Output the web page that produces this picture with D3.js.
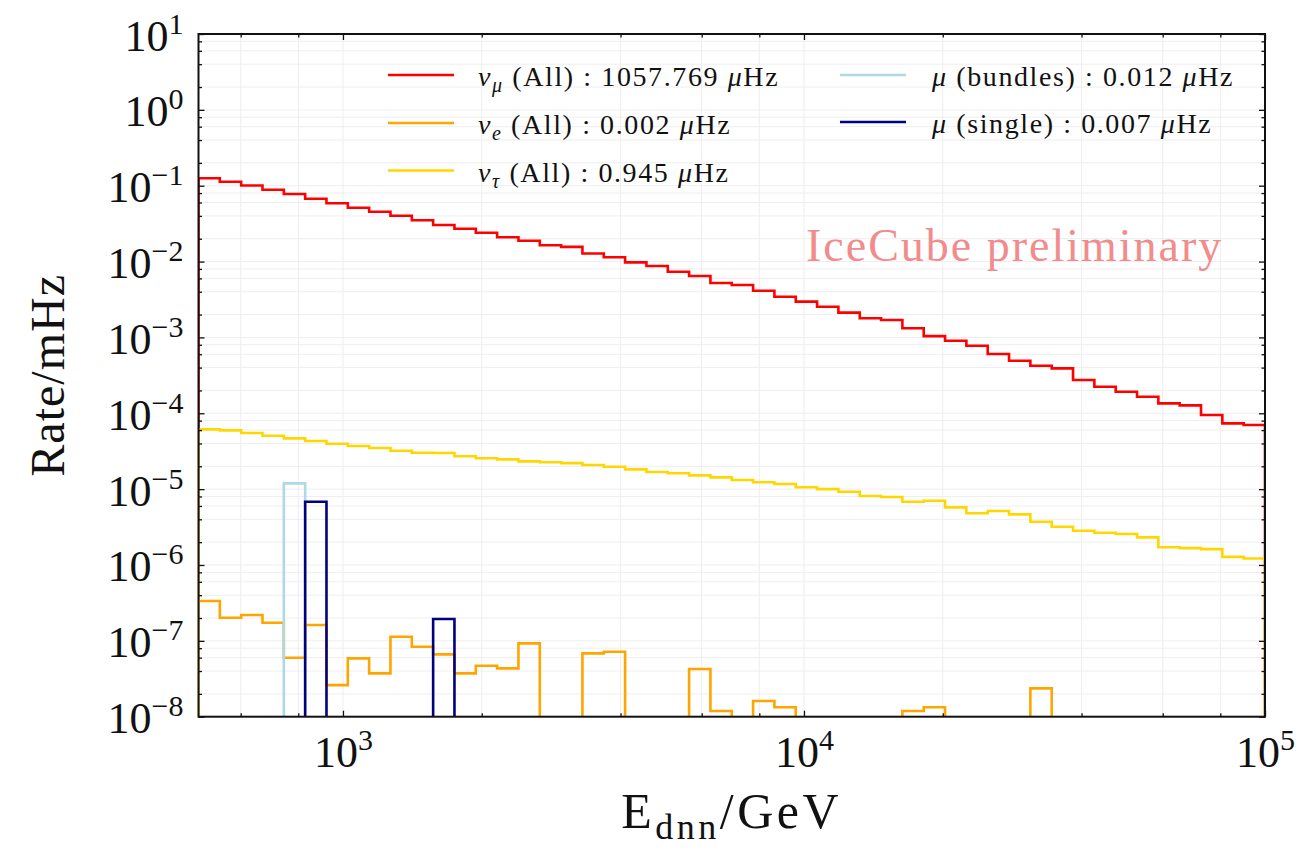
<!DOCTYPE html>
<html>
<head>
<meta charset="utf-8">
<script src="https://cdn.jsdelivr.net/npm/d3@7"></script>
<style>
  html, body { margin: 0; padding: 0; background: #ffffff; }
  svg { display: block; }
  text { font-family: "Liberation Serif", "Times New Roman", serif; fill: #111111; white-space: pre; }
</style>
</head>
<body>
<svg id="chart" width="1298" height="851"></svg>
<script>
// ---- Binning of the reconstructed energy (log-spaced) ----
const energyMin = 486;
const energyMax = 1e5;
const binCount = 50;

// ---- Rates per energy bin, in mHz ----
const numuRate = [
  0.1252, 0.1129, 0.1006, 0.0886, 0.0777, 0.0674, 0.0588, 0.0513, 0.0454, 0.0402,
  0.0350, 0.0303, 0.0271, 0.0240, 0.0209, 0.0188, 0.0164, 0.0156, 0.0128, 0.0114,
  0.00977, 0.00874, 0.00735, 0.00645, 0.00522, 0.00491, 0.00413, 0.00344, 0.00296, 0.00254,
  0.00212, 0.00179, 0.00170, 0.00132, 0.00104, 0.000904, 0.000777, 0.000604, 0.000493, 0.000423,
  0.000391, 0.000274, 0.000224, 0.000192, 0.000165, 0.000135, 0.000127, 0.0000948, 0.0000737, 0.0000700
];
const nueRate = [
  3.35e-7, 2.02e-7, 2.19e-7, 1.73e-7, 5.99e-8, 1.62e-7, 2.61e-8, 5.88e-8, 3.73e-8, 1.13e-7,
  8.36e-8, 6.64e-8, 3.73e-8, 4.69e-8, 4.34e-8, 9.27e-8, 0, 0, 6.84e-8, 7.18e-8,
  0, 0, 0, 4.25e-8, 1.19e-8, 0, 1.61e-8, 1.33e-8, 0, 0,
  0, 0, 0, 1.19e-8, 1.33e-8, 0, 0, 0, 0, 2.36e-8,
  0, 0, 0, 0, 0, 0, 0, 0, 0, 0
];
const nutauRate = [
  6.14e-5, 5.96e-5, 5.49e-5, 5.06e-5, 4.67e-5, 4.31e-5, 3.97e-5, 3.70e-5, 3.48e-5, 3.21e-5,
  3.02e-5, 3.00e-5, 2.71e-5, 2.55e-5, 2.47e-5, 2.32e-5, 2.26e-5, 2.20e-5, 2.08e-5, 1.97e-5,
  1.82e-5, 1.68e-5, 1.62e-5, 1.52e-5, 1.43e-5, 1.32e-5, 1.23e-5, 1.17e-5, 1.06e-5, 1.00e-5,
  9.24e-6, 8.11e-6, 7.87e-6, 6.82e-6, 7.03e-6, 5.75e-6, 4.80e-6, 5.14e-6, 4.65e-6, 3.72e-6,
  3.19e-6, 2.83e-6, 2.66e-6, 2.56e-6, 2.31e-6, 1.71e-6, 1.67e-6, 1.62e-6, 1.28e-6, 1.22e-6
];
const muBundleRate = [
  0, 0, 0, 0, 1.19e-5, 0, 0, 0, 0, 0,
  0, 0, 0, 0, 0, 0, 0, 0, 0, 0,
  0, 0, 0, 0, 0, 0, 0, 0, 0, 0,
  0, 0, 0, 0, 0, 0, 0, 0, 0, 0,
  0, 0, 0, 0, 0, 0, 0, 0, 0, 0
];
const muSingleRate = [
  0, 0, 0, 0, 0, 6.82e-6, 0, 0, 0, 0,
  0, 1.94e-7, 0, 0, 0, 0, 0, 0, 0, 0,
  0, 0, 0, 0, 0, 0, 0, 0, 0, 0,
  0, 0, 0, 0, 0, 0, 0, 0, 0, 0,
  0, 0, 0, 0, 0, 0, 0, 0, 0, 0
];

// ---- Legend content ----
const legendParticle = ["ν", "ν", "ν", "μ", "μ"];
const legendFlavour = ["μ", "e", "τ", "", ""];
const legendSample = ["All", "All", "All", "bundles", "single"];
const legendTotal = ["1057.769", "0.002", "0.945", "0.012", "0.007"];
const seriesColor = ["#ff0000", "#ffa500", "#ffd700", "#add8e6", "#000080"];

// ---- Axis ticks ----
const xMajorTicks = [1e3, 1e4, 1e5];
const xTickExponent = ["3", "4", "5"];
const yMajorTicks = [1e-8, 1e-7, 1e-6, 1e-5, 1e-4, 1e-3, 1e-2, 1e-1, 1e0, 1e1];
const yTickExponent = ["−8", "−7", "−6", "−5", "−4", "−3", "−2", "−1", "0", "1"];
const minorMultipliers = [2, 4, 6, 8];

const series = [numuRate, nueRate, nutauRate, muBundleRate, muSingleRate];

// ---- Layout ----
const svg = d3.select("#chart");
const plotL = 198.5, plotR = 1265, plotT = 34, plotB = 716.7;

const x = d3.scaleLog().domain([energyMin, energyMax]).range([plotL, plotR]);
const y = d3.scaleLog().domain([1e-8, 10]).range([plotB, plotT]);

const edges = d3.range(binCount + 1).map(i => energyMin * Math.pow(energyMax / energyMin, i / binCount));

function minorsIn(domain, decades) {
  const out = [];
  decades.forEach(d => minorMultipliers.forEach(m => {
    const v = d * m;
    if (v > domain[0] && v < domain[1]) out.push(v);
  }));
  return out;
}
const xMinor = minorsIn(x.domain(), [1e2, 1e3, 1e4]);
const yMinor = minorsIn(y.domain(), yMajorTicks);

// ---- Grid ----
const grid = svg.append("g").attr("stroke", "#eeeeee").attr("stroke-width", 1);
grid.selectAll("line.gx").data(xMajorTicks.concat(xMinor)).join("line")
  .attr("x1", d => x(d)).attr("x2", d => x(d)).attr("y1", plotT).attr("y2", plotB);
grid.selectAll("line.gy").data(yMajorTicks.concat(yMinor)).join("line")
  .attr("y1", d => y(d)).attr("y2", d => y(d)).attr("x1", plotL).attr("x2", plotR);

// ---- Step histograms ----
svg.append("clipPath").attr("id", "plotClip")
  .append("rect").attr("x", plotL).attr("y", plotT).attr("width", plotR - plotL).attr("height", plotB - plotT);

const floorValue = 1e-10;
const stepLine = d3.line()
  .x(d => x(d[0]))
  .y(d => y(d[1] > 0 ? d[1] : floorValue))
  .curve(d3.curveStepAfter);

const plot = svg.append("g").attr("clip-path", "url(#plotClip)");
series.forEach((rates, k) => {
  const pts = [[edges[0], 0]];
  edges.forEach((e, i) => pts.push([e, i < binCount ? rates[i] : rates[binCount - 1]]));
  pts.push([edges[binCount], 0]);
  plot.append("path")
    .attr("d", stepLine(pts))
    .attr("fill", "none")
    .attr("stroke", seriesColor[k])
    .attr("stroke-width", 2.6)
    .attr("stroke-linejoin", "miter");
});

// ---- Axes (ticks point inward on all four sides) ----
function styleAxis(g) {
  g.select(".domain").remove();
  g.selectAll(".tick line").attr("stroke", "#111").attr("stroke-width", 1.3);
}
const tickFont = 44, expFont = 30, expRise = 17;

const axL = svg.append("g").attr("transform", `translate(${plotL},0)`)
  .call(d3.axisLeft(y).tickValues(yMajorTicks).tickSize(-6).tickPadding(15).tickFormat(() => ""));
styleAxis(axL);
axL.selectAll(".tick text").each(function (d, i) {
  const t = d3.select(this).attr("dy", null).attr("y", 16).attr("text-anchor", "end")
    .attr("fill", "#111").style("font-size", tickFont + "px");
  t.append("tspan").text("10");
  t.append("tspan").attr("dy", -expRise).style("font-size", expFont + "px").text(yTickExponent[i]);
});
svg.append("g").attr("transform", `translate(${plotL},0)`)
  .call(d3.axisLeft(y).tickValues(yMinor).tickSize(-3.5).tickFormat(() => "")).call(styleAxis);
svg.append("g").attr("transform", `translate(${plotR},0)`)
  .call(d3.axisRight(y).tickValues(yMajorTicks).tickSize(-6).tickFormat(() => "")).call(styleAxis);
svg.append("g").attr("transform", `translate(${plotR},0)`)
  .call(d3.axisRight(y).tickValues(yMinor).tickSize(-3.5).tickFormat(() => "")).call(styleAxis);

const axB = svg.append("g").attr("transform", `translate(0,${plotB})`)
  .call(d3.axisBottom(x).tickValues(xMajorTicks).tickSize(-6).tickFormat(() => ""));
styleAxis(axB);
axB.selectAll(".tick text").each(function (d, i) {
  const t = d3.select(this).attr("dy", null).attr("y", 50.5).attr("text-anchor", "middle")
    .attr("fill", "#111").style("font-size", tickFont + "px");
  t.append("tspan").text("10");
  t.append("tspan").attr("dy", -expRise).style("font-size", expFont + "px").text(xTickExponent[i]);
});
svg.append("g").attr("transform", `translate(0,${plotB})`)
  .call(d3.axisBottom(x).tickValues(xMinor).tickSize(-3.5).tickFormat(() => "")).call(styleAxis);
svg.append("g").attr("transform", `translate(0,${plotT})`)
  .call(d3.axisTop(x).tickValues(xMajorTicks).tickSize(-6).tickFormat(() => "")).call(styleAxis);
svg.append("g").attr("transform", `translate(0,${plotT})`)
  .call(d3.axisTop(x).tickValues(xMinor).tickSize(-3.5).tickFormat(() => "")).call(styleAxis);

// Frame
svg.append("rect").attr("x", plotL).attr("y", plotT).attr("width", plotR - plotL).attr("height", plotB - plotT)
  .attr("fill", "none").attr("stroke", "#111").attr("stroke-width", 2);

// ---- Axis titles ----
const xTitle = svg.append("text").attr("x", (plotL + plotR) / 2).attr("y", 828)
  .attr("text-anchor", "middle").style("font-size", "50px").style("letter-spacing", "3.5px");
xTitle.append("tspan").text("E");
xTitle.append("tspan").attr("dy", 11).style("font-size", "36px").text("dnn");
xTitle.append("tspan").attr("dy", -11).text("/GeV");

svg.append("text").attr("transform", `translate(64,${(plotT + plotB) / 2}) rotate(-90)`)
  .attr("text-anchor", "middle").style("font-size", "48px").style("letter-spacing", "1px").text("Rate/mHz");

// ---- Watermark ----
svg.append("text").attr("x", 806).attr("y", 261)
  .style("font-size", "46px").style("letter-spacing", "2px")
  .style("fill", "#f28c8c")
  .text("IceCube preliminary");

// ---- Legend ----
const legendFont = 28;
const legendPos = [
  { lx: 388, tx: 478, y: 75 },
  { lx: 388, tx: 478, y: 123 },
  { lx: 388, tx: 478, y: 170.5 },
  { lx: 840, tx: 932, y: 75 },
  { lx: 840, tx: 932, y: 122 }
];
const legend = svg.append("g");
legendPos.forEach((p, k) => {
  legend.append("line").attr("x1", p.lx).attr("x2", p.lx + 66).attr("y1", p.y).attr("y2", p.y)
    .attr("stroke", seriesColor[k]).attr("stroke-width", 2.6);
  const t = legend.append("text").attr("x", p.tx).attr("y", p.y + 11)
    .style("font-size", legendFont + "px").style("letter-spacing", "1.6px");
  t.append("tspan").style("font-style", "italic").text(legendParticle[k]);
  if (legendFlavour[k]) {
    t.append("tspan").attr("dy", 6).style("font-size", "20px").style("font-style", "italic").text(legendFlavour[k]);
    t.append("tspan").attr("dy", -6).text(" (" + legendSample[k] + ") : " + legendTotal[k] + " ");
  } else {
    t.append("tspan").text(" (" + legendSample[k] + ") : " + legendTotal[k] + " ");
  }
  t.append("tspan").style("font-style", "italic").text("μ");
  t.append("tspan").text("Hz");
});
</script>
</body>
</html>
